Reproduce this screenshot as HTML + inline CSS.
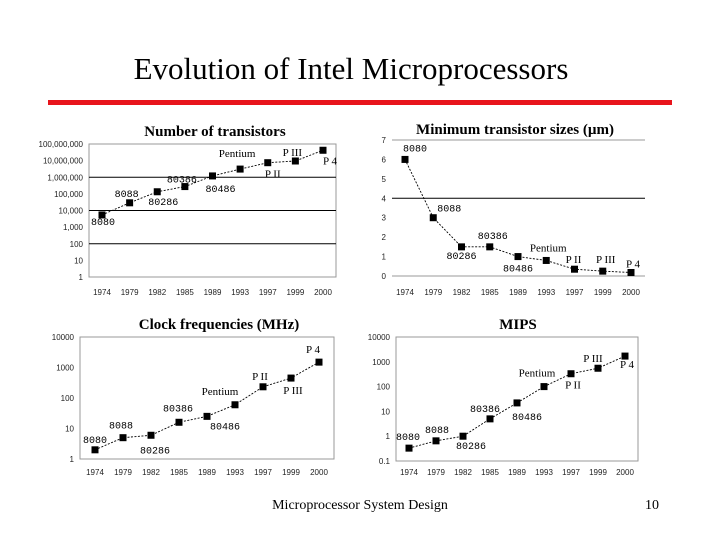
<!DOCTYPE html>
<html><head><meta charset="utf-8"><style>
body{margin:0;background:#fff}
svg{display:block}
.tk{font-family:"Liberation Sans",sans-serif;font-size:8px;fill:#222}
.pl{font-family:"Liberation Mono",monospace;font-size:10px;fill:#000}
.ps{font-family:"Liberation Serif",serif;font-size:11px;fill:#000}
.ct{font-family:"Liberation Serif",serif;font-size:15px;font-weight:bold;fill:#000}
</style></head><body>
<svg id="s" width="720" height="540" viewBox="0 0 720 540">
<text x="351" y="79" text-anchor="middle" font-family="Liberation Serif,serif" font-size="31">Evolution of Intel Microprocessors</text>
<rect x="48" y="100" width="624" height="5" fill="#e8141c"/>
<text x="360" y="509" text-anchor="middle" font-family="Liberation Serif,serif" font-size="14">Microprocessor System Design</text>
<text x="659" y="509" text-anchor="end" font-family="Liberation Serif,serif" font-size="14">10</text>
</svg>
<script>
const years=["1974","1979","1982","1985","1989","1993","1997","1999","2000"];
const chips=["8080","8088","80286","80386","80486","Pentium","P II","P III","P 4"];
const transistors=[5400,29000,134000,275000,1200000,3100000,7500000,9500000,42000000];
const transTicks=["1","10","100","1,000","10,000","100,000","1,000,000","10,000,000","100,000,000"];
const sizes=[6,3,1.5,1.5,1,0.8,0.35,0.25,0.18];
const sizeTicks=["0","1","2","3","4","5","6","7"];
const clocks=[2,5,6,16,25,60,233,450,1500];
const clockTicks=["1","10","100","1000","10000"];
const mips=[0.33,0.65,1,5,22,100,330,550,1700];
const mipsTicks=["0.1","1","10","100","1000","10000"];

const NS="http://www.w3.org/2000/svg";
const svg=document.getElementById('s');
function mk(t,a,p){const e=document.createElementNS(NS,t);for(const k in a)e.setAttribute(k,a[k]);(p||svg).appendChild(e);return e;}

function chart(c){
  const g=mk('g',{});
  
  
  const n=c.ticks.length;
  const yv=v=>{const t=c.log?Math.log10(v)-c.lmin:v; return c.bottom-t*(c.bottom-c.top)/(n-1);};
  const xv=i=>c.x0+i*(c.x1-c.x0)/(years.length-1);
  if(c.frame){const r=mk('rect',{x:c.left,y:c.top,width:c.right-c.left,height:c.bottom-c.top,fill:'none',stroke:'#999','stroke-width':1},g);
    }
  c.grid.forEach(gi=>{const yy=c.bottom-gi*(c.bottom-c.top)/(n-1);
    const l=mk('line',{x1:c.left,x2:c.right,y1:yy,y2:yy,stroke:c.gridColor(gi),'stroke-width':1},g);
    });
  c.ticks.forEach((t,i)=>{const yy=c.bottom-i*(c.bottom-c.top)/(n-1);
    const e=mk('text',{x:c.left-6,y:yy+3,'text-anchor':'end',class:'tk'},g);e.textContent=t;
    });
  years.forEach((y,i)=>{const e=mk('text',{x:xv(i),y:c.xly,'text-anchor':'middle',class:'tk'},g);e.textContent=y;
    });
  const pts=c.vals.map((v,i)=>xv(i)+','+yv(v)).join(' ');
  const pl=mk('polyline',{points:pts,fill:'none',stroke:'#000','stroke-width':0.9,'stroke-dasharray':'2,1.5'},g);
  
  c.vals.forEach((v,i)=>{const m=mk('rect',{x:xv(i)-3.5,y:yv(v)-3.5,width:7,height:7,fill:'#000'},g);
    
    const o=c.off[i];const t=mk('text',{x:xv(i)+o[0],y:yv(v)+o[1],'text-anchor':'middle',class:i>=5?'ps':'pl'},g);
    t.textContent=chips[i];
    });
  const tt=mk('text',{x:c.tx,y:c.ty,'text-anchor':'middle',class:'ct'},g);tt.textContent=c.title;
  
}
chart({name:'transistors-chart',title:'Number of transistors',tx:215,ty:136,vals:transistors,ticks:transTicks,log:true,lmin:0,
  left:89,right:336,top:144,bottom:277,x0:102,x1:323,xly:295,frame:true,grid:[2,4,6],gridColor:()=>'#000',
  off:[[1,10],[-3,-6],[6,13],[-3,-4],[8,16],[-3,-12],[5,15],[-3,-5],[7,14]]});
chart({name:'sizes-chart',title:'Minimum transistor sizes (\u00b5m)',tx:515,ty:134,vals:sizes,ticks:sizeTicks,log:false,
  left:392,right:645,top:140,bottom:276,x0:405,x1:631,xly:295,frame:false,grid:[0,4,7],gridColor:g=>g==4?'#000':'#999',
  off:[[10,-8],[16,-6],[0,12],[3,-8],[0,15],[2,-9],[-1,-6],[3,-8],[2,-5]]});
chart({name:'clock-chart',title:'Clock frequencies (MHz)',tx:219,ty:329,vals:clocks,ticks:clockTicks,log:true,lmin:0,
  left:80,right:334,top:337,bottom:459,x0:95,x1:319,xly:475,frame:true,grid:[],gridColor:()=>'#000',
  off:[[0,-7],[-2,-9],[4,18],[-1,-11],[18,13],[-15,-10],[-3,-7],[2,16],[-6,-9]]});
chart({name:'mips-chart',title:'MIPS',tx:518,ty:329,vals:mips,ticks:mipsTicks,log:true,lmin:-1,
  left:396,right:638,top:337,bottom:461,x0:409,x1:625,xly:475,frame:true,grid:[],gridColor:()=>'#000',
  off:[[-1,-8],[1,-8],[8,13],[-5,-7],[10,17],[-7,-10],[2,15],[-5,-6],[2,12]]});
</script>
</body></html>
